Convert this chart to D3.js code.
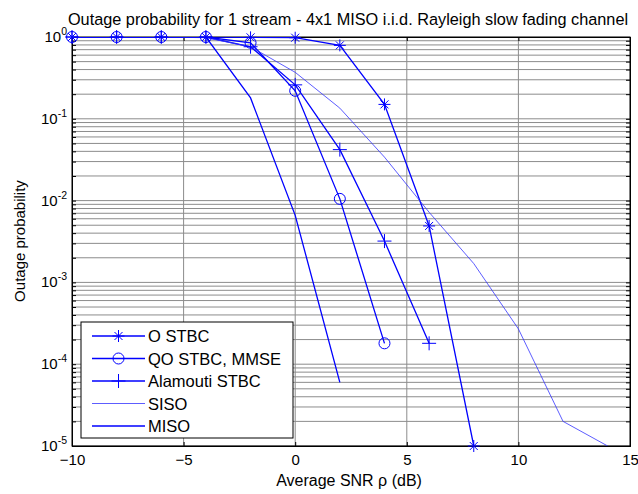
<!DOCTYPE html>
<html>
<head>
<meta charset="utf-8">
<script src="https://cdn.jsdelivr.net/npm/d3@7"></script>
<style>
  body { margin: 0; background: #fff; }
  text { font-family: "Liberation Sans", Arial, sans-serif; }
</style>
</head>
<body>
<svg id="vis" width="638" height="494"></svg>
<script>
// data
var snr = [-10, -8, -6, -4, -2, 0, 2, 4, 6, 8, 10, 12, 14];
var oStbc = [1, 1, 1, 1, 0.99, 0.98, 0.79, 0.15, 0.0049, 0.00001];
var qoStbc = [1, 1, 1, 1, 0.85, 0.22, 0.0105, 0.00018];
var alamouti = [1, 1, 1, 1, 0.76, 0.26, 0.042, 0.0032, 0.00018];
var siso = [1, 1, 1, 0.98, 0.76, 0.37, 0.135, 0.034, 0.0072, 0.0017, 0.00027, 0.00002, 0.00001];
var miso = [1, 1, 1, 1, 0.18, 0.0066, 0.00006];
var xTicks = [-10, -5, 0, 5, 10, 15];
var yDecades = [0, -1, -2, -3, -4, -5];
var legendLabels = ['O STBC', 'QO STBC, MMSE', 'Alamouti STBC', 'SISO', 'MISO'];

var svg = d3.select('#vis');
var margin = {top: 37, right: 8, bottom: 48, left: 72};
var width = 630 - margin.left;
var height = 446 - margin.top;

var x = d3.scaleLinear().domain([-10, 15]).range([0, width]);
var y = d3.scaleLog().domain([1e-5, 1]).range([height, 0]);

var g = svg.append('g').attr('transform', 'translate(' + margin.left + ',' + margin.top + ')');

g.append('defs').append('clipPath').attr('id', 'clip')
    .append('rect').attr('width', width).attr('height', height);

// grid
var minor = [];
yDecades.forEach(function (e) {
    for (var k = 1; k < 10; k++) {
        var v = k * Math.pow(10, e - 1);
        if (v >= 1e-5 && v <= 1) minor.push(v);
    }
});
g.selectAll('.ygrid').data(minor).enter().append('line')
    .attr('x1', 0).attr('x2', width)
    .attr('y1', function (d) { return y(d); }).attr('y2', function (d) { return y(d); })
    .attr('stroke', '#8c8c8c').attr('stroke-width', 1);
g.selectAll('.xgrid').data(xTicks.slice(1, -1)).enter().append('line')
    .attr('y1', 0).attr('y2', height)
    .attr('x1', function (d) { return x(d); }).attr('x2', function (d) { return x(d); })
    .attr('stroke', '#8c8c8c').attr('stroke-width', 1);

// axes
var xAxis = g.append('g').attr('transform', 'translate(0,' + height + ')')
    .call(d3.axisBottom(x).tickValues(xTicks).tickSize(-4).tickPadding(8));
g.append('g').call(d3.axisTop(x).tickValues(xTicks).tickSize(-4).tickFormat(''));
g.append('g').call(d3.axisLeft(y).tickValues(minor).tickSize(-4).tickFormat(''));
g.append('g').attr('transform', 'translate(' + width + ',0)')
    .call(d3.axisRight(y).tickValues(minor).tickSize(-4).tickFormat(''));
g.selectAll('.domain').attr('stroke', '#000');
g.selectAll('.tick line').attr('stroke', '#000');
xAxis.selectAll('text').attr('font-size', 15).attr('fill', '#000')
    .attr('font-family', '"Liberation Sans", Arial, sans-serif');
g.append('rect').attr('width', width).attr('height', height)
    .attr('fill', 'none').attr('stroke', '#000').attr('stroke-width', 1);

// y tick labels with exponents
yDecades.forEach(function (e) {
    var t = g.append('text').attr('x', -5).attr('y', y(Math.pow(10, e)) + 5)
        .attr('text-anchor', 'end').attr('font-size', 15);
    t.append('tspan').text('10');
    t.append('tspan').attr('dy', -7).attr('font-size', 10.5).text(String(e));
});

// series
var line = d3.line()
    .x(function (d) { return x(d[0]); })
    .y(function (d) { return y(Math.max(d[1], 1e-5)); });
function pairs(vals) {
    return vals.map(function (v, i) { return [snr[i], v]; });
}
var plot = g.append('g').attr('clip-path', 'url(#clip)');
var blue = '#0000ff';

function drawMarker(sel, type, cx, cy) {
    var s = 6;
    if (type === 'star') {
        sel.append('path').attr('d',
            'M' + (cx - s) + ',' + cy + 'H' + (cx + s) +
            'M' + cx + ',' + (cy - s) + 'V' + (cy + s) +
            'M' + (cx - 4) + ',' + (cy - 4) + 'L' + (cx + 4) + ',' + (cy + 4) +
            'M' + (cx - 4) + ',' + (cy + 4) + 'L' + (cx + 4) + ',' + (cy - 4))
            .attr('stroke', blue).attr('fill', 'none');
    } else if (type === 'circle') {
        sel.append('circle').attr('cx', cx).attr('cy', cy).attr('r', 5.5)
            .attr('stroke', blue).attr('fill', 'none');
    } else if (type === 'plus') {
        sel.append('path').attr('d',
            'M' + (cx - s - 1) + ',' + cy + 'H' + (cx + s + 1) +
            'M' + cx + ',' + (cy - s - 1) + 'V' + (cy + s + 1))
            .attr('stroke', blue).attr('fill', 'none');
    }
}

var series = [
    {vals: oStbc, marker: 'star', w: 1.3, c: blue},
    {vals: qoStbc, marker: 'circle', w: 1.3, c: blue},
    {vals: alamouti, marker: 'plus', w: 1.3, c: blue},
    {vals: siso, marker: null, w: 0.8, c: '#3333ff'},
    {vals: miso, marker: null, w: 1.3, c: blue}
];

series.forEach(function (s) {
    var p = pairs(s.vals);
    plot.append('path').datum(p).attr('d', line)
        .attr('fill', 'none').attr('stroke', s.c).attr('stroke-width', s.w);
});
var mk = g.append('g');
series.forEach(function (s) {
    if (!s.marker) return;
    pairs(s.vals).forEach(function (d) {
        drawMarker(mk, s.marker, x(d[0]), y(Math.max(d[1], 1e-5)));
    });
});

// legend
var lg = svg.append('g').attr('transform', 'translate(81,322)');
lg.append('rect').attr('width', 212).attr('height', 116)
    .attr('fill', '#fff').attr('stroke', '#000').attr('stroke-width', 1);
legendLabels.forEach(function (lab, i) {
    var s = series[i];
    var ly = 14 + i * 22.5;
    lg.append('line').attr('x1', 11).attr('x2', 64).attr('y1', ly).attr('y2', ly)
        .attr('stroke', s.c).attr('stroke-width', s.w);
    if (s.marker) drawMarker(lg, s.marker, 37.5, ly);
    lg.append('text').attr('x', 67).attr('y', ly + 6).attr('font-size', 16.5).text(lab);
});

// titles
svg.append('text').attr('x', 348).attr('y', 25).attr('text-anchor', 'middle')
    .attr('font-size', 16.3).text('Outage probability for 1 stream - 4x1 MISO i.i.d. Rayleigh slow fading channel');
svg.append('text').attr('x', 349).attr('y', 486).attr('text-anchor', 'middle')
    .attr('font-size', 16).text('Average SNR \u03c1 (dB)');
svg.append('text').attr('transform', 'translate(25,241) rotate(-90)')
    .attr('text-anchor', 'middle').attr('font-size', 15).text('Outage probability');
</script>
</body>
</html>
